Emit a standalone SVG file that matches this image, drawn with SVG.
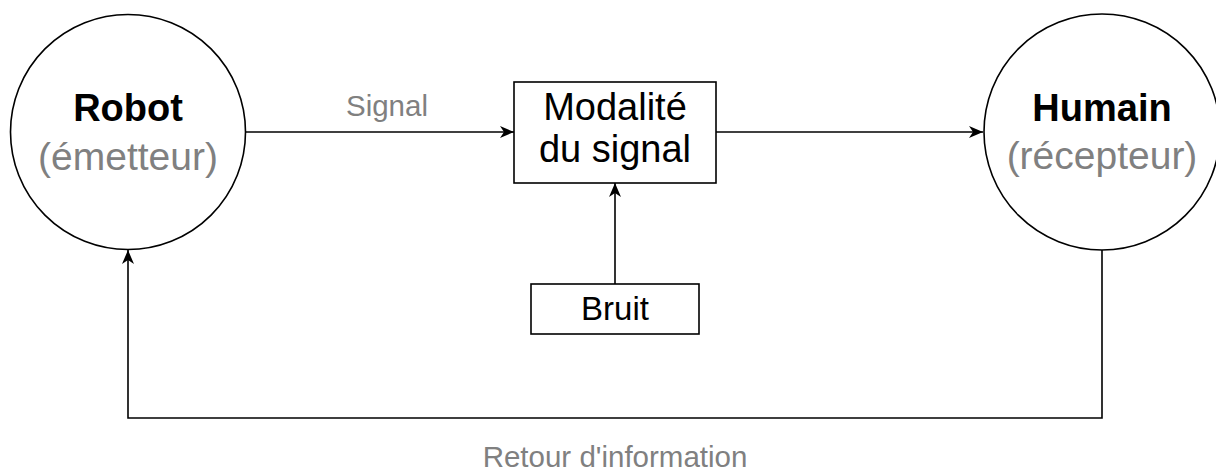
<svg xmlns="http://www.w3.org/2000/svg" width="1216" height="471" viewBox="0 0 1216 471">
<style>
.shape{fill:#ffffff;stroke:#000000;stroke-width:1.6}
.edge{fill:none;stroke:#000000;stroke-width:1.6}
.t{font-family:"Liberation Sans",Arial,sans-serif;text-anchor:middle}
.title{font-size:38px;font-weight:bold;fill:#000000}
.sub{font-size:39px;fill:#808080}
.box{font-size:38px;fill:#000000}
.small{font-size:33px;fill:#000000}
.lbl{font-size:29.5px;fill:#808080}
</style>
<defs>
<marker id="arr" markerUnits="userSpaceOnUse" viewBox="0 0 14 12" markerWidth="14" markerHeight="12" refX="14" refY="6" orient="auto">
<path d="M0,0 L14,6 L0,12 L4,6 Z" fill="#000000"/>
</marker>
</defs>
<rect width="1216" height="471" fill="#ffffff"/>
<g id="connectors">
<line class="edge" x1="246" y1="132" x2="514" y2="132" marker-end="url(#arr)"/>
<line class="edge" x1="716" y1="132" x2="983" y2="132" marker-end="url(#arr)"/>
<line class="edge" x1="615" y1="284" x2="615" y2="183" marker-end="url(#arr)"/>
<polyline class="edge" points="1102,250 1102,418 128,418 128,250" marker-end="url(#arr)"/>
<text class="t lbl" x="387" y="116">Signal</text>
<text class="t lbl" x="615" y="467">Retour d'information</text>
</g>
<g id="robot">
<circle class="shape" cx="128" cy="132" r="117.5"/>
<text class="t title" x="128" y="121">Robot</text>
<text class="t sub" x="128" y="170">(émetteur)</text>
</g>
<g id="humain">
<circle class="shape" cx="1102" cy="132" r="118"/>
<text class="t title" x="1102" y="121">Humain</text>
<text class="t sub" x="1102" y="169">(récepteur)</text>
</g>
<g id="modalite">
<rect class="shape" x="514" y="82" width="202" height="101"/>
<text class="t box" x="615" y="120">Modalité</text>
<text class="t box" x="615" y="162">du signal</text>
</g>
<g id="bruit">
<rect class="shape" x="531" y="284" width="168" height="50"/>
<text class="t small" x="615" y="320">Bruit</text>
</g>
</svg>
